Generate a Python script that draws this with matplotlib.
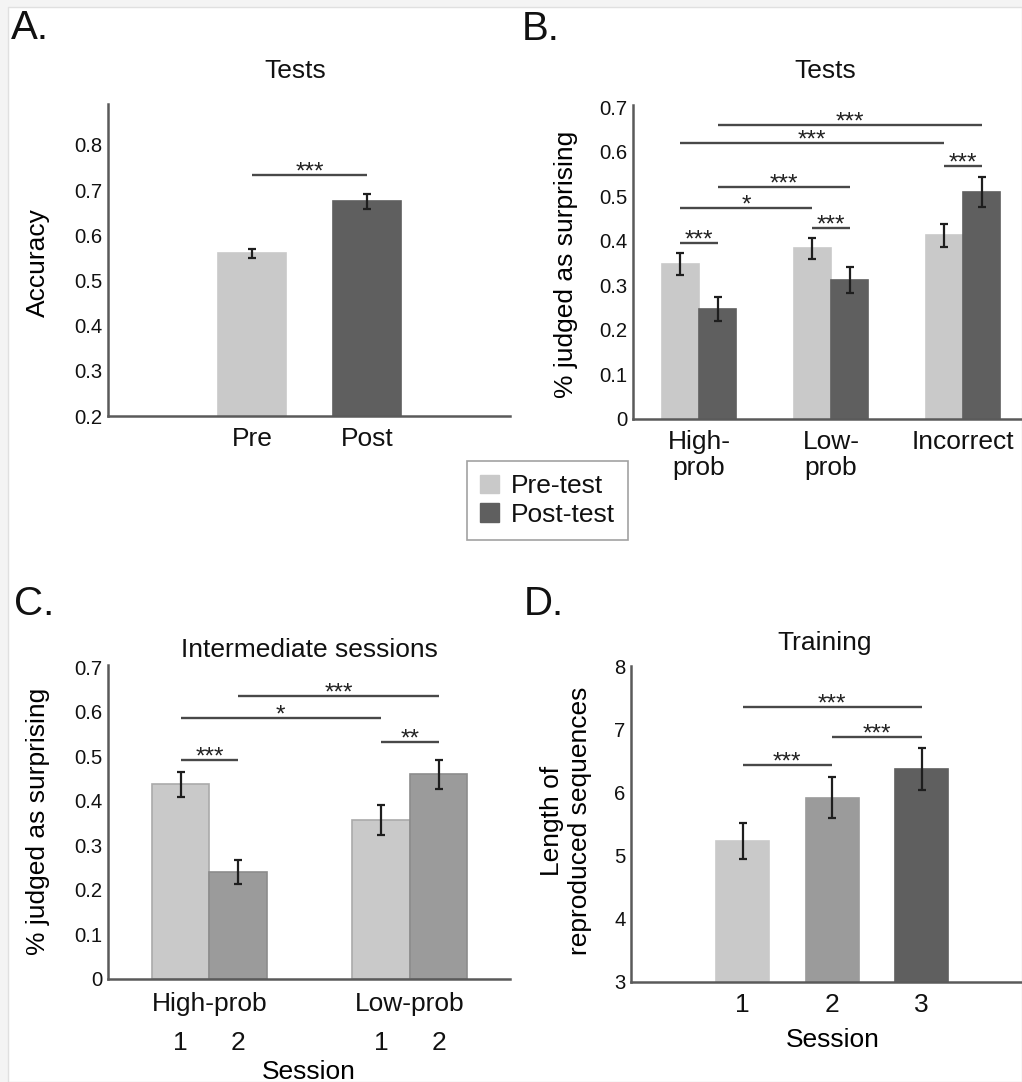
"""
Four-panel bar figure: test accuracy, surprise judgements, intermediate
sessions and training length. Values are read off the published figure.
"""
import matplotlib
matplotlib.use('Agg')
import matplotlib.pyplot as plt
import matplotlib.transforms as mtransforms
from matplotlib.patches import Patch, Rectangle

# ─────────────────────────────────────────────────────────────────────
# DATA
# ─────────────────────────────────────────────────────────────────────
A_LABELS = ['Pre', 'Post']
A_MEANS = [0.560, 0.675]
A_ERRS = [0.010, 0.017]
A_TICKS = [0.2, 0.3, 0.4, 0.5, 0.6, 0.7, 0.8]
A_SIG = [(0, 1, 0.734, '***')]

B_GROUPS = ['High-\nprob', 'Low-\nprob', 'Incorrect']
B_PRE = [0.348, 0.383, 0.412]
B_PRE_ERR = [0.025, 0.024, 0.025]
B_POST = [0.247, 0.312, 0.510]
B_POST_ERR = [0.028, 0.030, 0.033]
B_SERIES = ['Pre-test', 'Post-test']
# (group, series) -> (group, series), height, label
B_SIG = [
    ((0, 0), (0, 1), 0.396, '***'),
    ((0, 0), (1, 0), 0.473, '*'),
    ((0, 1), (1, 1), 0.520, '***'),
    ((1, 0), (1, 1), 0.428, '***'),
    ((2, 0), (2, 1), 0.568, '***'),
    ((0, 0), (2, 0), 0.620, '***'),
    ((0, 1), (2, 1), 0.659, '***'),
]

C_GROUPS = ['High-prob', 'Low-prob']
C_SESSIONS = ['1', '2']
C_S1 = [0.437, 0.356]
C_S1_ERR = [0.028, 0.034]
C_S2 = [0.240, 0.459]
C_S2_ERR = [0.027, 0.033]
C_SIG = [
    ((0, 0), (0, 1), 0.491, '***'),
    ((0, 0), (1, 0), 0.585, '*'),
    ((0, 1), (1, 1), 0.635, '***'),
    ((1, 0), (1, 1), 0.531, '**'),
]

PROB_TICKS = [0, 0.1, 0.2, 0.3, 0.4, 0.5, 0.6, 0.7]
PROB_TICKLABELS = ['0', '0.1', '0.2', '0.3', '0.4', '0.5', '0.6', '0.7']

D_SESSIONS = [1, 2, 3]
D_MEANS = [5.228, 5.914, 6.368]
D_ERRS = [0.280, 0.325, 0.330]
D_TICKS = [3, 4, 5, 6, 7, 8]
D_SIG = [(1, 2, 6.43, '***'), (2, 3, 6.88, '***'), (1, 3, 7.356, '***')]

# ─────────────────────────────────────────────────────────────────────
# STYLE
# ─────────────────────────────────────────────────────────────────────
LIGHT = '#c9c9c9'
MID = '#9b9b9b'
DARK = '#5f5f5f'
SPINE = '#5a5a5a'
ERR = '#1e1e1e'
SIG = '#484848'

plt.rcParams.update({
    'font.family': ['Liberation Sans', 'DejaVu Sans'],
    'text.color': '#111111',
    'xtick.color': '#111111',
    'ytick.color': '#111111',
})

TICK_FS = 14.6
LABEL_FS = 19
LETTER_FS = 29
STAR_FS = 17.5

W, H = 1022, 1082
fig = plt.figure(figsize=(W / 100, H / 100), dpi=100, facecolor='#f4f4f4')
fig.add_artist(Rectangle((8 / W, 0), 1 - 8 / W, 1 - 7 / H,
                         transform=fig.transFigure, facecolor='white',
                         edgecolor='#e0e0e0', linewidth=1.0, zorder=-10))


def fx(x):
    return x / W


def fy(y):
    return 1 - y / H


def add_axes(left, top, right, bottom):
    """Axes from a pixel box (top-left origin)."""
    return fig.add_axes([fx(left), fy(bottom), (right - left) / W,
                         (bottom - top) / H])


def style_axes(ax):
    for side in ('top', 'right'):
        ax.spines[side].set_visible(False)
    for side in ('left', 'bottom'):
        ax.spines[side].set_color(SPINE)
        ax.spines[side].set_linewidth(1.8)
    ax.tick_params(axis='both', length=0)
    ax.tick_params(axis='y', labelsize=TICK_FS, pad=4)
    ax.tick_params(axis='x', labelsize=LABEL_FS, pad=8)
    ax.set_facecolor('none')


def ylabel_at(ax, text, x, y):
    ax.set_ylabel(text, fontsize=LABEL_FS, linespacing=1.2)
    ax.yaxis.set_label_coords(fx(x), fy(y), transform=fig.transFigure)
    ax.yaxis.label.set_verticalalignment('center')


def sig_bar(ax, x1, x2, y, label):
    ax.plot([x1, x2], [y, y], color=SIG, linewidth=1.7,
            solid_capstyle='butt', zorder=3)
    ax.annotate(label, xy=((x1 + x2) / 2, y), xytext=(0, -2.5),
                textcoords='offset points', ha='center', va='baseline',
                fontsize=STAR_FS, color='#222222')


def bars(ax, x, h, err, color, width, edge=None):
    ax.bar(x, h, width=width, color=color,
           edgecolor=edge if edge else color, linewidth=1.2, zorder=2)
    ax.errorbar(x, h, yerr=err, fmt='none', ecolor=ERR, elinewidth=1.6,
                capsize=2.6, capthick=1.6, zorder=4)


def panel_text(x, y, text, size, ha='left'):
    fig.text(fx(x), fy(y), text, fontsize=size, ha=ha, va='baseline')


# ─────────────────────────────────────────────────────────────────────
# A. Accuracy pre/post
# ─────────────────────────────────────────────────────────────────────
axA = add_axes(108, 104.3, 510, 416)
style_axes(axA)
xa = list(range(len(A_LABELS)))
for i, color in enumerate([LIGHT, DARK]):
    bars(axA, [xa[i]], [A_MEANS[i]], [A_ERRS[i]], color, 0.594)
for i1, i2, y, lab in A_SIG:
    sig_bar(axA, xa[i1], xa[i2], y, lab)
axA.set_xlim(-1.26, 2.25)
axA.set_ylim(0.2, 0.89)
axA.set_yticks(A_TICKS)
axA.set_yticklabels([f'{t:.1f}' for t in A_TICKS])
axA.set_xticks(xa)
axA.set_xticklabels(A_LABELS)
ylabel_at(axA, 'Accuracy', 38, 263)
panel_text(295, 78, 'Tests', LABEL_FS, ha='center')
panel_text(11, 39, 'A.', LETTER_FS)

# ─────────────────────────────────────────────────────────────────────
# B. Surprise judgements at tests
# ─────────────────────────────────────────────────────────────────────
axB = add_axes(633, 105, 1022, 419)
style_axes(axB)
wB = 0.284
xb = list(range(len(B_GROUPS)))
offB = [-wB / 2, wB / 2]
bars(axB, [g + offB[0] for g in xb], B_PRE, B_PRE_ERR, LIGHT, wB)
bars(axB, [g + offB[1] for g in xb], B_POST, B_POST_ERR, DARK, wB)
for (g1, s1), (g2, s2), y, lab in B_SIG:
    sig_bar(axB, xb[g1] + offB[s1], xb[g2] + offB[s2], y, lab)
axB.set_xlim(-0.5, 2.447)
axB.set_ylim(0, 0.705)
axB.set_yticks(PROB_TICKS)
axB.set_yticklabels(PROB_TICKLABELS)
axB.set_xticks(xb)
axB.set_xticklabels(B_GROUPS, linespacing=1.1)
ylabel_at(axB, '% judged as surprising', 566, 264)
panel_text(825, 78, 'Tests', LABEL_FS, ha='center')
panel_text(522, 40, 'B.', LETTER_FS)

leg = fig.legend(handles=[Patch(facecolor=LIGHT, edgecolor=LIGHT),
                          Patch(facecolor=DARK, edgecolor=DARK)],
                 labels=B_SERIES, loc='upper left',
                 bbox_to_anchor=(fx(467), fy(461)), borderaxespad=0,
                 fontsize=LABEL_FS, frameon=True, fancybox=False,
                 handlelength=0.72, handleheight=0.72, handletextpad=0.45,
                 labelspacing=0.18, borderpad=0.5)
leg.get_frame().set_edgecolor('#8a8a8a')
leg.get_frame().set_linewidth(1.2)

# ─────────────────────────────────────────────────────────────────────
# C. Intermediate sessions
# ─────────────────────────────────────────────────────────────────────
axC = add_axes(107.7, 665, 510, 978.5)
style_axes(axC)
wC = 0.2875
xc = list(range(len(C_GROUPS)))
offC = [-wC / 2, wC / 2]
bars(axC, [g + offC[0] for g in xc], C_S1, C_S1_ERR, LIGHT, wC, edge='#aaaaaa')
bars(axC, [g + offC[1] for g in xc], C_S2, C_S2_ERR, MID, wC, edge='#8c8c8c')
for (g1, s1), (g2, s2), y, lab in C_SIG:
    sig_bar(axC, xc[g1] + offC[s1], xc[g2] + offC[s2], y, lab)
axC.set_xlim(-0.508, 1.5)
axC.set_ylim(0, 0.705)
axC.set_yticks(PROB_TICKS)
axC.set_yticklabels(PROB_TICKLABELS)
axC.set_xticks(xc)
axC.set_xticklabels(C_GROUPS)
axC.tick_params(axis='x', pad=10)
sess_tr = mtransforms.blended_transform_factory(axC.transData, fig.transFigure)
for g in xc:
    for s, lab in enumerate(C_SESSIONS):
        axC.text(g + offC[s], fy(1043), lab, transform=sess_tr,
                 ha='center', va='center', fontsize=LABEL_FS)
axC.set_xlabel('Session', fontsize=LABEL_FS)
axC.xaxis.set_label_coords(fx(309), fy(1060), transform=fig.transFigure)
ylabel_at(axC, '% judged as surprising', 38, 821)
panel_text(309, 657, 'Intermediate sessions', LABEL_FS, ha='center')
panel_text(14, 615, 'C.', LETTER_FS)

# ─────────────────────────────────────────────────────────────────────
# D. Training
# ─────────────────────────────────────────────────────────────────────
axD = add_axes(631, 666, 1022, 981.7)
style_axes(axD)
for x, m, e, color in zip(D_SESSIONS, D_MEANS, D_ERRS, [LIGHT, MID, DARK]):
    bars(axD, [x], [m], [e], color, 0.59)
for s1, s2, y, lab in D_SIG:
    sig_bar(axD, s1, s2, y, lab)
axD.set_xlim(-0.245, 4.12)
axD.set_ylim(3, 8)
axD.set_yticks(D_TICKS)
axD.set_xticks(D_SESSIONS)
axD.set_xticklabels([str(s) for s in D_SESSIONS])
axD.set_xlabel('Session', fontsize=LABEL_FS)
axD.xaxis.set_label_coords(fx(833), fy(1028), transform=fig.transFigure)
ylabel_at(axD, 'Length of\nreproduced sequences', 566, 821)
panel_text(825, 650, 'Training', LABEL_FS, ha='center')
panel_text(524, 615, 'D.', LETTER_FS)

fig.savefig('out.png', dpi=100, facecolor=fig.get_facecolor())
